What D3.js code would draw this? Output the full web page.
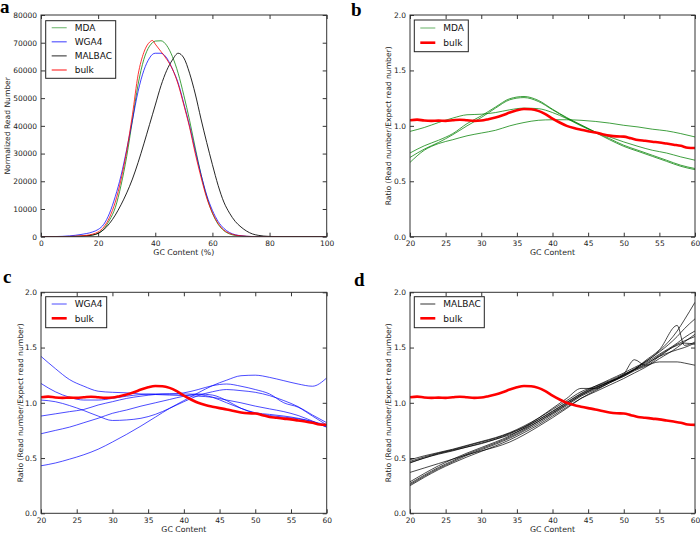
<!DOCTYPE html>
<html><head><meta charset="utf-8">
<script src="https://cdn.jsdelivr.net/npm/d3@7"></script>
<style>body{margin:0;background:#fff} svg{display:block}</style>
</head><body><svg id="chart" width="700" height="533"></svg>
<script>
// ---------- Panel a data ----------
const gcA = [0,5,10,14,18,20,22,24,26,28,30,32,34,36,38,39,40,42,44,46,48,50,52,54,56,58,60,62,64,66,68,70,72,74,76,80,85,90,100];
const mdaA    = [0,0,50,200,600,1200,2800,6000,10500,18500,29000,42000,55000,64000,68800,70000,70600,70700,69000,65000,59000,51000,42000,32000,22500,14500,8500,4500,2200,1000,450,200,80,30,10,0,0,0,0];
const wga4A   = [0,50,300,800,1700,2600,4500,8500,14500,22000,31500,42000,52500,60000,64500,65800,66200,66200,64500,60500,55500,48000,40000,31000,22500,15000,9500,5500,3000,1500,700,350,150,60,20,0,0,0,0];
const malbacA = [0,0,30,150,600,1200,2600,4800,7800,11500,15800,20800,26800,33500,40500,44000,47500,54500,60000,63800,66200,64500,59000,51500,42500,34000,26000,18500,12500,8500,5500,3500,2000,1000,500,100,0,0,0];
const bulkA   = [0,0,100,300,900,1700,3500,7000,12500,20500,31000,44000,58500,66500,70200,70800,69500,66800,64000,60500,55000,47500,39500,30000,21500,14000,8600,4800,2400,1200,600,300,150,60,20,0,0,0,0];
const xTicksA = [0,20,40,60,80,100];
const yTicksA = [0,10000,20000,30000,40000,50000,60000,70000,80000];

// ---------- Ratio panels data ----------
const gcBulk = [20,21,22,23,24,25,26,27,28,29,30,31,32,33,34,35,36,37,38,39,40,41,42,43,44,45,46,47,48,49,50,51,52,53,54,55,56,57,58,59,60];
const bulkRatio = [1.05,1.056,1.048,1.045,1.047,1.045,1.05,1.055,1.05,1.045,1.048,1.06,1.075,1.095,1.12,1.14,1.152,1.15,1.135,1.105,1.065,1.03,1.0,0.98,0.965,0.952,0.94,0.925,0.912,0.905,0.903,0.888,0.872,0.865,0.857,0.85,0.84,0.83,0.82,0.803,0.8];

const gcBC = [20,22,24,26,28,30,32,34,36,38,40,42,44,46,48,50,52,54,56,58,60];
const mdaRatio = [
  [0.95,0.985,1.03,1.07,1.10,1.105,1.12,1.145,1.16,1.155,1.12,1.065,1.0,0.945,0.9,0.855,0.815,0.78,0.755,0.72,0.69],
  [0.755,0.82,0.87,0.93,1.02,1.09,1.17,1.245,1.265,1.23,1.15,1.075,1.01,0.945,0.885,0.825,0.78,0.735,0.69,0.645,0.615],
  [0.715,0.79,0.85,0.92,1.0,1.075,1.16,1.235,1.255,1.22,1.145,1.07,1.005,0.94,0.875,0.815,0.77,0.725,0.68,0.635,0.605],
  [0.67,0.78,0.84,0.875,0.91,0.935,0.96,1.0,1.03,1.05,1.055,1.055,1.05,1.04,1.025,1.005,0.99,0.97,0.955,0.93,0.9]
];
const wga4Ratio = [
  [1.42,1.31,1.21,1.15,1.105,1.095,1.09,1.08,1.075,1.07,1.065,1.06,1.05,1.025,1.0,0.97,0.945,0.92,0.885,0.835,0.78],
  [1.175,1.10,1.05,1.025,1.025,1.04,1.06,1.075,1.08,1.08,1.09,1.12,1.155,1.17,1.15,1.12,1.08,1.0,0.96,0.88,0.8],
  [1.025,1.01,0.975,0.93,0.88,0.84,0.845,0.86,0.895,0.95,1.01,1.065,1.1,1.12,1.11,1.095,1.065,1.02,0.965,0.89,0.82],
  [0.88,0.9,0.92,0.94,0.98,1.01,1.04,1.06,1.075,1.08,1.08,1.075,1.05,1.0,0.95,0.91,0.895,0.88,0.86,0.83,0.78],
  [0.72,0.75,0.78,0.82,0.86,0.905,0.935,0.97,1.0,1.03,1.06,1.08,1.07,1.02,0.95,0.905,0.885,0.87,0.855,0.83,0.8],
  [0.43,0.455,0.49,0.53,0.58,0.645,0.715,0.79,0.87,0.95,1.02,1.09,1.155,1.205,1.245,1.25,1.23,1.2,1.17,1.15,1.225]
];
const gcD = [20,22,24,26,28,30,32,34,36,38,40,42,44,46,48,50,51.5,53,55,57.5,58.5,60];
const malbacRatio = [
  [0.485,0.52,0.55,0.58,0.615,0.65,0.685,0.73,0.79,0.86,0.94,1.02,1.1,1.15,1.2,1.26,1.3,1.35,1.42,1.48,1.5,1.54],
  [0.47,0.51,0.545,0.575,0.61,0.645,0.68,0.725,0.78,0.845,0.92,1.0,1.08,1.14,1.19,1.24,1.29,1.33,1.37,1.37,1.36,1.34],
  [0.455,0.5,0.535,0.565,0.6,0.635,0.67,0.71,0.765,0.83,0.905,0.985,1.07,1.135,1.19,1.25,1.31,1.36,1.44,1.54,1.59,1.65],
  [0.37,0.41,0.45,0.49,0.53,0.565,0.6,0.645,0.71,0.785,0.865,0.95,1.04,1.11,1.18,1.24,1.3,1.37,1.46,1.6,1.67,1.76],
  [0.285,0.36,0.43,0.49,0.545,0.595,0.645,0.7,0.77,0.845,0.925,1.005,1.085,1.15,1.21,1.27,1.32,1.37,1.47,1.65,1.75,1.91],
  [0.27,0.345,0.415,0.475,0.535,0.585,0.635,0.69,0.755,0.83,0.91,0.99,1.07,1.13,1.19,1.25,1.3,1.38,1.48,1.70,1.52,1.55],
  [0.26,0.335,0.405,0.465,0.525,0.575,0.625,0.68,0.745,0.815,0.895,0.975,1.06,1.12,1.18,1.26,1.39,1.34,1.42,1.53,1.56,1.6],
  [0.25,0.325,0.395,0.455,0.51,0.56,0.61,0.665,0.73,0.8,0.88,0.96,1.04,1.1,1.16,1.22,1.27,1.32,1.4,1.5,1.55,1.62],
  [0.46,0.5,0.54,0.57,0.6,0.63,0.67,0.72,0.78,0.86,0.95,1.04,1.13,1.13,1.19,1.25,1.3,1.34,1.43,1.52,1.54,1.53]
];
const xTicksR = [20,25,30,35,40,45,50,55,60];
const yTicksR = [0,0.5,1.0,1.5,2.0];

// ---------- drawing ----------
const SANS = "'DejaVu Sans', sans-serif";
const SERIF = "'Liberation Serif', 'DejaVu Serif', serif";
const svg = d3.select("#chart");
const C = {green:"#008000", blue:"#0000ff", black:"#000000", red:"#ff0000"};

function panel(cfg){
  const g = svg.append("g");
  const x = d3.scaleLinear().domain(cfg.xDomain).range([cfg.left, cfg.right]);
  const y = d3.scaleLinear().domain(cfg.yDomain).range([cfg.bottom, cfg.top]);
  const clipId = "clip" + cfg.id;
  svg.append("clipPath").attr("id", clipId).append("rect")
    .attr("x", cfg.left).attr("y", cfg.top).attr("width", cfg.right-cfg.left).attr("height", cfg.bottom-cfg.top);
  const lg = g.append("g").attr("clip-path", `url(#${clipId})`);
  cfg.series.forEach(s => {
    const line = d3.line().x((d,i)=>x(s.x[i])).y(d=>y(d)).curve(d3.curveMonotoneX);
    lg.append("path").attr("d", line(s.y)).attr("fill","none")
      .attr("stroke", s.color).attr("stroke-width", s.width).attr("stroke-opacity", s.opacity)
      .attr("stroke-linejoin","round");
  });
  const tl = 4;
  const axB = d3.axisBottom(x).tickValues(cfg.xTicks).tickSize(-tl).tickPadding(4).tickFormat(cfg.xFormat);
  const axT = d3.axisTop(x).tickValues(cfg.xTicks).tickSize(-tl).tickFormat("");
  const axL = d3.axisLeft(y).tickValues(cfg.yTicks).tickSize(-tl).tickPadding(4).tickFormat(cfg.yFormat);
  const axR = d3.axisRight(y).tickValues(cfg.yTicks).tickSize(-tl).tickFormat("");
  const style = sel => { sel.select(".domain").remove(); sel.selectAll("line").attr("stroke","#000").attr("stroke-width",0.8);
    sel.selectAll("text").attr("font-size","7.5px").attr("fill","#222").style("font-family",SANS); };
  g.append("g").attr("transform",`translate(0,${cfg.bottom})`).call(axB).call(style);
  g.append("g").attr("transform",`translate(0,${cfg.top})`).call(axT).call(style);
  g.append("g").attr("transform",`translate(${cfg.left},0)`).call(axL).call(style);
  g.append("g").attr("transform",`translate(${cfg.right},0)`).call(axR).call(style);
  g.append("rect").attr("x",cfg.left).attr("y",cfg.top).attr("width",cfg.right-cfg.left).attr("height",cfg.bottom-cfg.top)
    .attr("fill","none").attr("stroke","#333").attr("stroke-width",1);
  g.append("text").attr("x",(cfg.left+cfg.right)/2).attr("y",cfg.bottom+18.5).attr("text-anchor","middle")
    .style("font-family",SANS).attr("font-size","7.8px").attr("fill","#222").text(cfg.xLabel);
  g.append("text").attr("transform",`translate(${cfg.yLabelX},${(cfg.top+cfg.bottom)/2}) rotate(-90)`)
    .attr("text-anchor","middle").attr("dy","0.35em").style("font-family",SANS).attr("font-size","7.6px").attr("fill","#222").text(cfg.yLabel);
  g.append("text").attr("x",cfg.tagX).attr("y",cfg.tagY).style("font-family",SERIF)
    .attr("font-weight","bold").attr("font-size","19px").attr("fill","#000").text(cfg.tag);
  const L = cfg.legend;
  const lgd = g.append("g");
  lgd.append("rect").attr("x",L.x).attr("y",L.y).attr("width",L.w).attr("height",L.h)
    .attr("fill","#fff").attr("stroke","#222").attr("stroke-width",1);
  L.items.forEach((it,i)=>{
    const cy = L.y + L.first + i*L.step;
    lgd.append("line").attr("x1",L.x+6).attr("x2",L.x+21).attr("y1",cy).attr("y2",cy)
      .attr("stroke",it.color).attr("stroke-width",it.width).attr("stroke-opacity",it.opacity);
    lgd.append("text").attr("x",L.x+29).attr("y",cy+3.3).style("font-family",SANS).attr("font-size","9px").attr("fill","#111").text(it.label);
  });
}

const ratioLabel = "Ratio (Read number/Expect read number)";
const bulkSeries = {x:gcBulk, y:bulkRatio, color:C.red, width:2.6, opacity:1};

panel({id:"a", left:41, right:326.7, top:15, bottom:236.7, xDomain:[0,100], yDomain:[0,80000],
  xTicks:xTicksA, yTicks:yTicksA, xFormat:d3.format("d"), yFormat:d3.format("d"),
  xLabel:"GC Content (%)", yLabel:"Normalized Read Number", yLabelX:7.3, tag:"a", tagX:0, tagY:13,
  series:[
    {x:gcA, y:mdaA, color:C.green, width:1, opacity:0.75},
    {x:gcA, y:wga4A, color:C.blue, width:1, opacity:0.75},
    {x:gcA, y:malbacA, color:C.black, width:1, opacity:0.85},
    {x:gcA, y:bulkA, color:C.red, width:1, opacity:0.8}
  ],
  legend:{x:45.7, y:20.7, w:70, h:57.6, first:7, step:14.1, items:[
    {label:"MDA", color:C.green, width:1.2, opacity:0.5},
    {label:"WGA4", color:C.blue, width:1.2, opacity:0.65},
    {label:"MALBAC", color:C.black, width:1, opacity:0.85},
    {label:"bulk", color:C.red, width:1.2, opacity:0.8}]}
});

panel({id:"b", left:410, right:695, top:15, bottom:236.7, xDomain:[20,60], yDomain:[0,2],
  xTicks:xTicksR, yTicks:yTicksR, xFormat:d3.format("d"), yFormat:d3.format(".1f"),
  xLabel:"GC Content", yLabel:ratioLabel, yLabelX:388.3, tag:"b", tagX:351, tagY:15.5,
  series: mdaRatio.map(v=>({x:gcBC, y:v, color:C.green, width:1, opacity:0.75})).concat([bulkSeries]),
  legend:{x:414.3, y:20, w:54, h:31.7, first:8, step:14.7, items:[
    {label:"MDA", color:C.green, width:1.2, opacity:0.5},
    {label:"bulk", color:C.red, width:2.6, opacity:1}]}
});

panel({id:"c", left:41, right:326.7, top:292.3, bottom:513.3, xDomain:[20,60], yDomain:[0,2],
  xTicks:xTicksR, yTicks:yTicksR, xFormat:d3.format("d"), yFormat:d3.format(".1f"),
  xLabel:"GC Content", yLabel:ratioLabel, yLabelX:20, tag:"c", tagX:3, tagY:283,
  series: wga4Ratio.map(v=>({x:gcBC, y:v, color:C.blue, width:1, opacity:0.7})).concat([bulkSeries]),
  legend:{x:45.7, y:296.7, w:61, h:31, first:7.3, step:14.3, items:[
    {label:"WGA4", color:C.blue, width:1, opacity:0.7},
    {label:"bulk", color:C.red, width:2.6, opacity:1}]}
});

panel({id:"d", left:410, right:695, top:292.3, bottom:513.3, xDomain:[20,60], yDomain:[0,2],
  xTicks:xTicksR, yTicks:yTicksR, xFormat:d3.format("d"), yFormat:d3.format(".1f"),
  xLabel:"GC Content", yLabel:ratioLabel, yLabelX:388.3, tag:"d", tagX:354, tagY:286,
  series: malbacRatio.map(v=>({x:gcD, y:v, color:C.black, width:0.9, opacity:0.8})).concat([bulkSeries]),
  legend:{x:414.3, y:296.7, w:70, h:31, first:7.3, step:14.3, items:[
    {label:"MALBAC", color:C.black, width:1, opacity:0.8},
    {label:"bulk", color:C.red, width:2.6, opacity:1}]}
});
</script></body></html>
